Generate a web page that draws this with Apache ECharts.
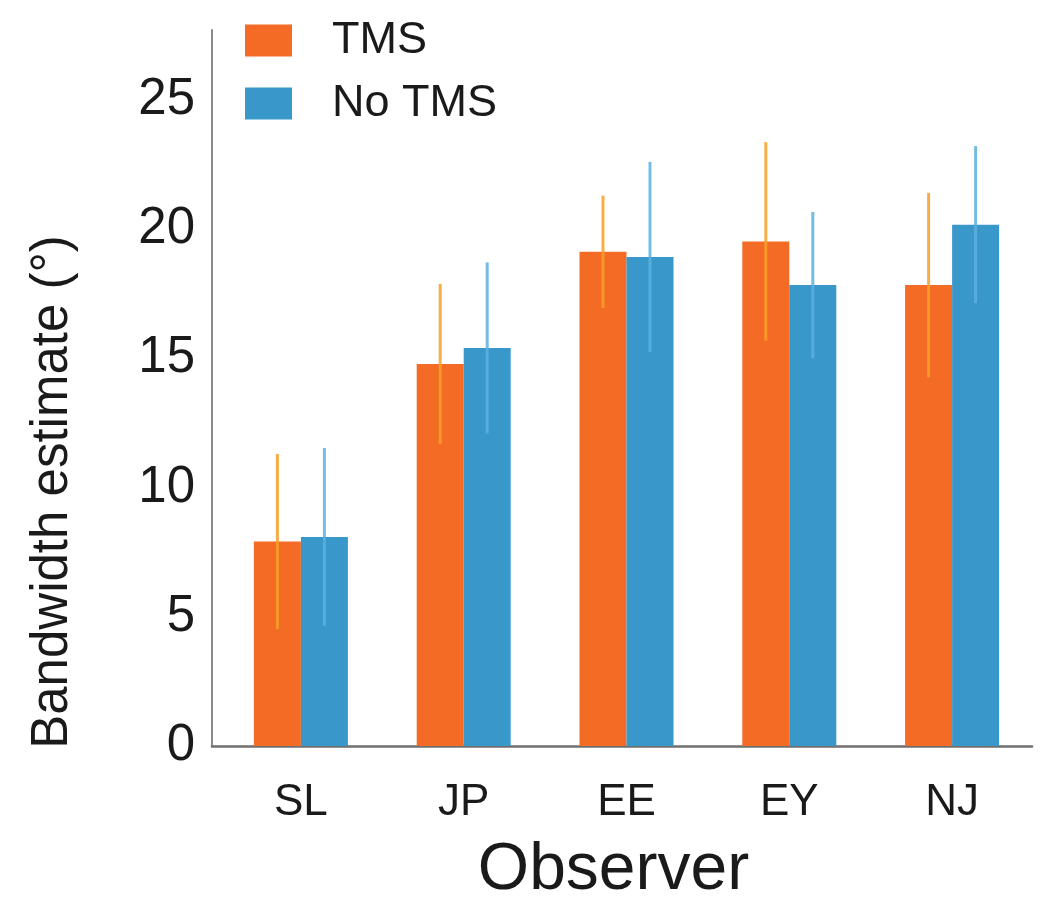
<!DOCTYPE html>
<html>
<head>
<meta charset="utf-8">
<script src="https://cdn.jsdelivr.net/npm/echarts@6/dist/echarts.min.js"></script>
<style>
  html, body { margin: 0; padding: 0; background: #fff; }
  #chart { width: 1050px; height: 919px; }
</style>
</head>
<body>
<div id="chart"></div>
<script>
// ---- data ----
const categories = ['SL', 'JP', 'EE', 'EY', 'NJ'];
const tmsMean    = [7.91, 14.78, 19.12, 19.52, 17.83];
const tmsErr     = [3.39, 3.10, 2.17, 3.84, 3.57];
const noTmsMean  = [8.09, 15.40, 18.92, 17.83, 20.17];
const noTmsErr   = [3.44, 3.31, 3.68, 2.83, 3.04];
const yTicks     = [0, 5, 10, 15, 20, 25];

const FONT = '"Liberation Sans", Arial, sans-serif';
const ORANGE = '#F36B25', BLUE = '#3A97C9';
const ORANGE_ERR = 'rgba(247,160,40,0.85)', BLUE_ERR = 'rgba(92,176,224,0.85)';
const BAR_W = 47;

function errData(mean, err) {
  return mean.map((m, i) => [i, m - err[i], m + err[i]]);
}
function errSeries(name, mean, err, color, side) {
  return {
    type: 'custom',
    name: name + ' err',
    xAxisIndex: 0, yAxisIndex: 0,
    z: 5,
    silent: true,
    encode: { x: 0, y: [1, 2] },
    data: errData(mean, err),
    renderItem: function (params, api) {
      const lo = api.coord([api.value(0), api.value(1)]);
      const hi = api.coord([api.value(0), api.value(2)]);
      const x = lo[0] + side * BAR_W / 2;
      return {
        type: 'line',
        shape: { x1: x, y1: lo[1], x2: x, y2: hi[1] },
        style: { stroke: color, lineWidth: 3 }
      };
    }
  };
}

const chart = echarts.init(document.getElementById('chart'), null, { renderer: 'canvas' });
chart.setOption({
  backgroundColor: '#ffffff',
  animation: false,
  textStyle: { fontFamily: FONT, color: '#1a1a1a' },
  legend: {
    orient: 'vertical',
    left: 245, top: 18,
    padding: 0,
    itemWidth: 47, itemHeight: 32, itemGap: 18,
    icon: 'rect',
    data: ['TMS', 'No TMS'],
    textStyle: { fontFamily: FONT, fontSize: 45, lineHeight: 32, color: '#1a1a1a', padding: [8, 0, 0, 35] }
  },
  grid: [
    { left: 219.5, right: 16.5, top: 30, bottom: 173, containLabel: false },
    { left: 212, right: 18, top: 30, bottom: 173, containLabel: false }
  ],
  xAxis: [
    {
      type: 'category', gridIndex: 0, data: categories,
      axisLine: { show: false }, axisTick: { show: false },
      axisLabel: { margin: 35, fontSize: 44, color: '#1a1a1a', fontFamily: FONT },
      name: 'Observer', nameLocation: 'middle', nameGap: 92,
      nameTextStyle: { fontSize: 66, color: '#1a1a1a', fontFamily: FONT, padding: [0, 26, 0, 0] }
    },
    {
      type: 'category', gridIndex: 1, data: categories,
      axisLine: { show: true, lineStyle: { color: '#707070', width: 2.5 } },
      axisTick: { show: false }, axisLabel: { show: false }
    }
  ],
  yAxis: [
    {
      type: 'value', gridIndex: 0, min: 0, max: 27.7, interval: 5, offset: 7.5,
      splitLine: { show: false },
      axisLine: { show: true, lineStyle: { color: '#8a8a8a', width: 2 } },
      axisTick: { show: false },
      axisLabel: {
        margin: 17, fontSize: 51, color: '#1a1a1a', fontFamily: FONT,
        formatter: v => (yTicks.indexOf(v) >= 0 ? String(v) : '')
      },
      name: 'Bandwidth estimate (°)', nameLocation: 'middle', nameRotate: 90, nameGap: 134,
      nameTextStyle: { fontSize: 51, color: '#1a1a1a', fontFamily: FONT, padding: [0, 208, 0, 0] }
    },
    {
      type: 'value', gridIndex: 1, min: 0, max: 27.7, show: false
    }
  ],
  series: [
    {
      name: 'TMS', type: 'bar', data: tmsMean, barWidth: BAR_W, barGap: '0%',
      itemStyle: { color: ORANGE }, z: 2
    },
    {
      name: 'No TMS', type: 'bar', data: noTmsMean, barWidth: BAR_W, barGap: '0%',
      itemStyle: { color: BLUE }, z: 2
    },
    errSeries('TMS', tmsMean, tmsErr, ORANGE_ERR, -1),
    errSeries('No TMS', noTmsMean, noTmsErr, BLUE_ERR, 1)
  ]
});
</script>
</body>
</html>
